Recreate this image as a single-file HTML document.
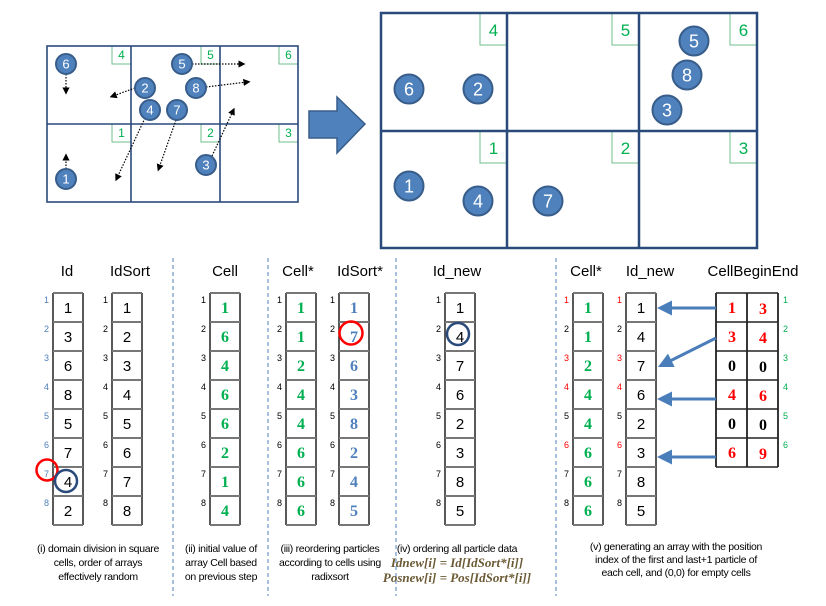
<!DOCTYPE html>
<html><head><meta charset="utf-8"><style>
html,body{margin:0;padding:0;background:#fff;}
svg{display:block;font-family:"Liberation Sans",sans-serif;}
</style></head><body>
<svg id="fig" width="826" height="606" viewBox="0 0 826 606" xmlns="http://www.w3.org/2000/svg">
<defs>
<marker id="dotHead" markerWidth="6" markerHeight="6" refX="3" refY="3" orient="auto"><path d="M0,0 L6,3 L0,6 z" fill="#000"/></marker>
<marker id="blueHead" markerWidth="5" markerHeight="5" refX="2" refY="2.5" orient="auto"><path d="M0,0 L5,2.5 L0,5 z" fill="#4a7ebb"/></marker>
</defs>
<g id="topLayer"></g>
<g id="bottomLayer"></g>
</svg>
<script>
const NS="http://www.w3.org/2000/svg";
// ---- data ----
const cellLabels=[4,5,6,1,2,3];
const smallParticles=[6,5,2,8,4,7,1,3];
const smallPX=[66,182,145,196,150,177,66,206];
const smallPY=[64,64,88,88,110,110,179,165];
const bigParticles=[6,2,5,8,3,1,4,7];
const bigPX=[409,478,694,687,667,409,478,548];
const bigPY=[89,89,41,75,110,186,201,201];
const colId=[1,3,6,8,5,7,4,2];
const colIdSort=[1,2,3,4,5,6,7,8];
const colCell=[1,6,4,6,6,2,1,4];
const colCellStar=[1,1,2,4,4,6,6,6];
const colIdSortStar=[1,7,6,3,8,2,4,5];
const colIdNew=[1,4,7,6,2,3,8,5];
const cellBegin=[1,3,0,4,0,6];
const cellEnd=[3,4,0,6,0,9];

function el(tag,attrs,parent,text){const e=document.createElementNS(NS,tag);for(const k in attrs)e.setAttribute(k,attrs[k]);if(text!==undefined)e.textContent=text;(parent||document.getElementById('fig')).appendChild(e);return e;}
const topG=document.getElementById('topLayer'),botG=document.getElementById('bottomLayer');

function grid(x0,y0,x1,y1,vx,my,lw,lh,fs,name,sw){
  const g=el('g',{},topG);
  
  
  const xs=[x0,vx[0],vx[1],x1];
  for(let r=0;r<2;r++)for(let c=0;c<3;c++){
    const idx=r*3+c;const cx=xs[c+1],cy=r==0?y0:my;
    el('rect',{x:cx-lw,y:cy,width:lw,height:lh,fill:'none',stroke:'#6fbf8c','stroke-width':1},g);
    const t=el('text',{x:cx-lw/2,y:cy+lh*0.72,'text-anchor':'middle','font-size':fs,fill:'#00b050'},g,cellLabels[idx]);
    
    
  }
  el('rect',{x:x0,y:y0,width:x1-x0,height:y1-y0,fill:'none',stroke:'#2a4a7c','stroke-width':sw},g);
  el('line',{x1:x0,y1:my,x2:x1,y2:my,stroke:'#2a4a7c','stroke-width':sw},g);
  vx.forEach(v=>el('line',{x1:v,y1:y0,x2:v,y2:y1,stroke:'#2a4a7c','stroke-width':sw},g));
}
function particle(g,x,y,r,n,fs){
  const c=el('g',{},g);
  
  
  el('circle',{cx:x,cy:y,r:r,fill:'#4f81bd',stroke:'#385d8a','stroke-width':2},c);
  el('text',{x:x,y:y+fs*0.36,'text-anchor':'middle','font-size':fs,fill:'#fff'},c,n);
}
grid(47,46,298,202,[131,220],124,19,18,12,'initial-grid',1.6);
grid(381,13,757,248,[507,639],131,27,32,17,'sorted-grid',2.5);
// motion arrows
const arrowsFrom=[[66,74],[66,169],[135,88],[192,64],[206,87],[145,118],[176,120],[212,156]];
const arrowsTo=[[66,91],[66,157],[113,96],[242,64],[247,82],[117,178],[159,168],[233,111]];
const ag=el('g',{},topG);


arrowsFrom.forEach((f,i)=>el('line',{x1:f[0],y1:f[1],x2:arrowsTo[i][0],y2:arrowsTo[i][1],stroke:'#000','stroke-width':1.2,'stroke-dasharray':'1.5,1.5','marker-end':'url(#dotHead)'},ag));
const sp=el('g',{},topG);


smallParticles.forEach((n,i)=>particle(sp,smallPX[i],smallPY[i],10,n,13));
const bp=el('g',{},topG);


bigParticles.forEach((n,i)=>particle(bp,bigPX[i],bigPY[i],14.5,n,18));
const bigArrow=el('polygon',{points:'309,111 337,111 337,97 365,124 337,153 337,138 309,138',fill:'#4f81bd',stroke:'#385d8a','stroke-width':1.5},topG);



// ---- bottom columns ----
const RT=293,RH=29;
function column(x,vals,name,title,tx,opts){
  const g=el('g',{},botG);
  
  
  const t=el('text',{x:tx,y:276,'text-anchor':'middle','font-size':15,fill:'#000'},g,title);
  
  
  const n=vals.length;
  el('line',{x1:x,y1:RT,x2:x,y2:RT+n*RH,stroke:'#222','stroke-width':1.5},g);
  el('line',{x1:x+30,y1:RT,x2:x+30,y2:RT+n*RH,stroke:'#222','stroke-width':1.5},g);
  for(let i=0;i<=n;i++)el('line',{x1:x,y1:RT+i*RH,x2:x+30,y2:RT+i*RH,stroke:'#777','stroke-width':2},g);
  vals.forEach((v,i)=>{
    el('text',{x:x+15,y:RT+i*RH+20,'text-anchor':'middle','font-size':opts.fs||15,fill:opts.color,'font-weight':opts.bold?'bold':'normal','font-family':opts.serif?'Liberation Serif, serif':'Liberation Sans, sans-serif'},g,v);
    const ic=opts.idxColor?opts.idxColor(i):'#000';
    el('text',{x:x-4,y:RT+i*RH+10,'text-anchor':'end','font-size':9,fill:ic},g,i+1);
  });
}
const redIdx=i=>[0,2,3,5].includes(i)?'#ff0000':'#000';
column(53,colId,'id-column','Id',67,{color:'#000',idxColor:()=>'#4f81bd'});
column(112,colIdSort,'idsort-column','IdSort',130,{color:'#000'});
column(210,colCell,'cell-column','Cell',225,{color:'#00b050',bold:true,serif:true,fs:16});
column(286,colCellStar,'cell-star-column','Cell*',298,{color:'#00b050',bold:true,serif:true,fs:16});
column(339,colIdSortStar,'idsort-star-column','IdSort*',360,{color:'#4f81bd',bold:true,serif:true,fs:16});
column(445,colIdNew,'id-new-column','Id_new',457,{color:'#000'});
column(573,colCellStar,'cell-star-column-2','Cell*',586,{color:'#00b050',bold:true,serif:true,fs:16,idxColor:redIdx});
column(626,colIdNew,'id-new-column-2','Id_new',650,{color:'#000',idxColor:redIdx});

// CellBeginEnd
const cbe=el('g',{},botG);


el('text',{x:753,y:276,'text-anchor':'middle','font-size':15},cbe,'CellBeginEnd');
[716,747,778].forEach(x=>el('line',{x1:x,y1:RT,x2:x,y2:RT+6*RH,stroke:'#222','stroke-width':1.8},cbe));
for(let i=0;i<=6;i++)el('line',{x1:716,y1:RT+i*RH,x2:778,y2:RT+i*RH,stroke:'#222','stroke-width':1.5},cbe);
cellBegin.forEach((b,i)=>{
  const col=b===0?'#000':'#ff0000';
  el('text',{x:728,y:RT+i*RH+20,'font-size':16,'font-weight':'bold','font-family':'Liberation Serif, serif',fill:col},cbe,b);
  el('text',{x:759,y:RT+i*RH+21,'font-size':16,'font-weight':'bold','font-family':'Liberation Serif, serif',fill:col},cbe,cellEnd[i]);
  el('text',{x:783,y:RT+i*RH+10,'font-size':9,fill:'#00b050'},cbe,i+1);
});
// pointer arrows
const pFrom=[[716,308],[716,338],[716,399],[716,457]];
const pTo=[[660,308],[660,366],[660,399],[660,457]];
const pg=el('g',{},botG);


pFrom.forEach((f,i)=>el('line',{x1:f[0],y1:f[1],x2:pTo[i][0]+6,y2:pTo[i][1]-(i==1?3:0),stroke:'#4a7ebb','stroke-width':3,'marker-end':'url(#blueHead)'},pg));

// highlight circles
const hc=el('g',{},botG);


el('circle',{cx:47,cy:470,r:10.5,fill:'none',stroke:'#ff0000','stroke-width':2.5},hc);
el('circle',{cx:66,cy:481,r:11,fill:'none',stroke:'#2a4a7c','stroke-width':2.5},hc);
el('circle',{cx:351,cy:333,r:11.5,fill:'none',stroke:'#ff0000','stroke-width':2.5},hc);
el('circle',{cx:458,cy:334,r:11,fill:'none',stroke:'#2a4a7c','stroke-width':2.5},hc);

// dashed separators
[173,268,396,556].forEach(x=>{const l=el('line',{x1:x,y1:258,x2:x,y2:596,stroke:'#4f81bd','stroke-width':1,'stroke-dasharray':'4,3'},botG);

});

// captions
function caption(cx,ys,lines,name,styles){
  const g=el('g',{},botG);
  
  
  lines.forEach((s,i)=>{const st=styles&&styles[i];el('text',{x:cx,y:ys[i],'text-anchor':'middle','font-size':st?13:10.5,fill:st?'#6b5a35':'#000','font-style':st?'italic':'normal','font-weight':st?'bold':'normal','font-family':st?'Liberation Serif, serif':'Liberation Sans, sans-serif','letter-spacing':st?0:-0.3},g,s);});
}
caption(98,[552,566,580],['(i) domain division in square','cells, order of arrays','effectively random'],'caption-i');
caption(221,[552,566,580],['(ii) initial value of','array Cell based','on previous step'],'caption-ii');
caption(330,[552,566,580],['(iii) reordering particles','according to cells using','radixsort'],'caption-iii');
caption(457,[552,567,582],['(iv) ordering all particle data','Idnew[i] = Id[IdSort*[i]]','Posnew[i] = Pos[IdSort*[i]]'],'caption-iv',[false,true,true]);
caption(676,[550,563,576],['(v) generating an array with the position','index of the first and last+1 particle of','each cell, and (0,0) for empty cells'],'caption-v');
</script>
</body></html>
